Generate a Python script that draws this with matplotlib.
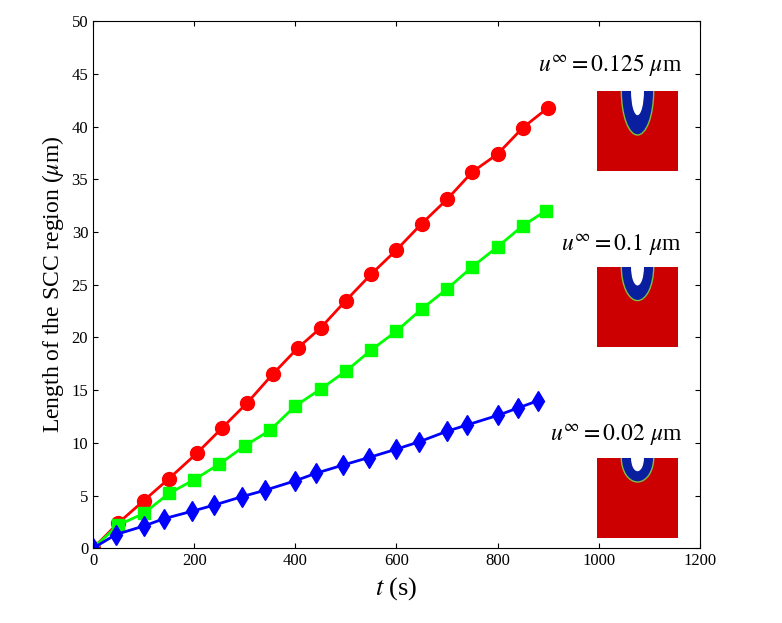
import matplotlib
matplotlib.use("Agg")
import matplotlib.pyplot as plt
from matplotlib.patches import Rectangle, Ellipse

plt.rcParams["font.family"] = "Liberation Serif"
plt.rcParams["mathtext.fontset"] = "stix"

# data
t_red = [0, 50, 100, 150, 205, 255, 305, 355, 405, 450, 500, 550, 600, 650, 700, 750, 800, 850, 900]
L_red = [0, 2.4, 4.5, 6.6, 9.0, 11.4, 13.8, 16.5, 19.0, 20.9, 23.5, 26.0, 28.3, 30.8, 33.1, 35.7, 37.4, 39.9, 41.8]
t_green = [0, 50, 100, 150, 200, 250, 300, 350, 400, 450, 500, 550, 600, 650, 700, 750, 800, 850, 895]
L_green = [0, 2.2, 3.3, 5.2, 6.5, 8.0, 9.7, 11.2, 13.5, 15.1, 16.8, 18.8, 20.6, 22.7, 24.6, 26.7, 28.6, 30.6, 32.0]
t_blue = [0, 45, 100, 140, 195, 240, 295, 340, 400, 440, 495, 545, 600, 645, 700, 740, 800, 840, 880]
L_blue = [0, 1.3, 2.1, 2.8, 3.5, 4.1, 4.9, 5.5, 6.4, 7.1, 7.9, 8.6, 9.4, 10.1, 11.1, 11.7, 12.6, 13.3, 14.0]

labels = [r"$u^{\infty} = 0.125\ \mu$m", r"$u^{\infty} = 0.1\ \mu$m", r"$u^{\infty} = 0.02\ \mu$m"]
notch_depth = [0.55, 0.42, 0.3]

fig = plt.figure(figsize=(7.82, 6.23), dpi=100)
ax = fig.add_axes([0.119, 0.120, 0.776, 0.846])
ax.plot(t_red, L_red, "-o", color="#ff0000", lw=2, ms=10)
ax.plot(t_green, L_green, "-s", color="#00ff00", lw=2, ms=8)
ax.plot(t_blue, L_blue, "-d", color="#0000ff", lw=2, ms=10)
ax.set_xlim(0, 1200)
ax.set_ylim(0, 50)
ax.set_xticks(range(0, 1201, 200))
ax.set_yticks(range(0, 51, 5))
ax.tick_params(labelsize=12, direction="in", top=True, right=True)
ax.set_xlabel(r"$t$ (s)", fontsize=19)
ax.set_ylabel(r"Length of the SCC region ($\mu$m)", fontsize=17)

# insets: (left px, top px) of each square, and label y position
insets = [(597, 91, 65), (597, 267, 245), (597, 458, 435)]
for (px, py, ly), lab, d in zip(insets, labels, notch_depth):
    iax = fig.add_axes([px / 782, 1 - (py + 80) / 623, 81 / 782, 80 / 623])
    iax.set_xlim(0, 1)
    iax.set_ylim(0, 1)
    iax.add_patch(Rectangle((0, 0), 1, 1, color="#cc0000"))
    iax.add_patch(Ellipse((0.5, 1.0), 0.4, 2 * d, facecolor="#0a1fa0", edgecolor="#7fbf3f", lw=1))
    iax.add_patch(Ellipse((0.5, 1.0), 0.16, 2 * d * 0.55, facecolor="white", edgecolor="none"))
    iax.axis("off")
    fig.text(682 / 782, 1 - ly / 623, lab, ha="right", va="center", fontsize=17)

fig.savefig("out.png", dpi=100)
